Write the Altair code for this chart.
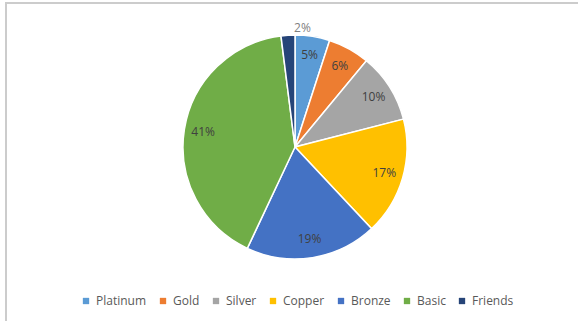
import altair as alt
import pandas as pd

categories = ["Platinum", "Gold", "Silver", "Copper", "Bronze", "Basic", "Friends"]
values = [5, 6, 10, 17, 19, 41, 2]
labels = ["5%", "6%", "10%", "17%", "19%", "41%", "2%"]
colors = ["#5B9BD5", "#ED7D31", "#A5A5A5", "#FFC000", "#4472C4", "#70AD47", "#264478"]

df = pd.DataFrame({
    "cat": categories,
    "val": values,
    "lab": labels,
    "ord": list(range(len(categories))),
})

CX, CY, R = 295, 147, 112

base = alt.Chart(df).encode(
    theta=alt.Theta("val:Q", stack=True),
    order=alt.Order("ord:Q"),
)

pie = base.mark_arc(outerRadius=R, stroke="white", strokeWidth=1.5).encode(
    x=alt.value(CX), y=alt.value(CY),
    color=alt.Color("cat:N", scale=alt.Scale(domain=categories, range=colors),
                    sort=categories,
                    legend=alt.Legend(title=None, orient="none", direction="horizontal",
                                      legendX=80, legendY=295, symbolType="square",
                                      symbolSize=40, symbolStrokeWidth=0,
                                      labelFont="Open Sans", labelFontSize=12,
                                      labelColor="#595959", columnPadding=10,
                                      labelOffset=4, padding=0)),
)

txt_in = base.mark_text(radius=93, font="Open Sans", fontSize=12, color="#404040").encode(
    x=alt.value(CX), y=alt.value(CY), text="lab:N",
).transform_filter(alt.datum.cat != "Friends")

txt_out = base.mark_text(radius=119, font="Open Sans", fontSize=12, color="#7f7f7f").encode(
    x=alt.value(CX), y=alt.value(CY), text="lab:N",
).transform_filter(alt.datum.cat == "Friends")

border_top = alt.Chart(df).mark_rule(color="#cccccc", strokeWidth=2).encode(
    x=alt.value(5), x2=alt.value(578), y=alt.value(3)
)
border_left = alt.Chart(df).mark_rule(color="#cccccc", strokeWidth=2).encode(
    x=alt.value(6), y=alt.value(2), y2=alt.value(321)
)

chart = alt.layer(border_top, border_left, pie, txt_in, txt_out).properties(
    width=578, height=321, padding=0, autosize=alt.AutoSizeParams(type="none")
).configure_view(stroke=None)

chart.save("out.html", embed_options={"renderer": "svg", "actions": False})
